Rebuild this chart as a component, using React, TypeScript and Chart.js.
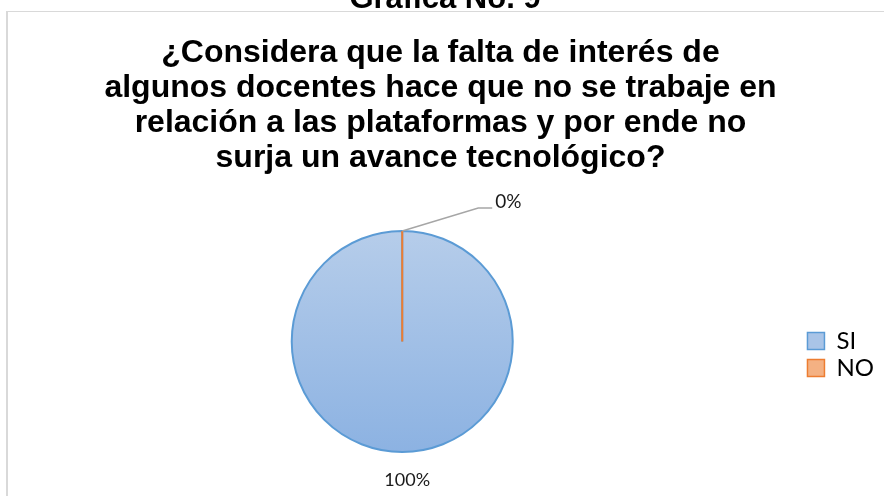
import React, { useEffect, useRef } from 'react';
import { Chart, registerables } from 'chart.js';

Chart.register(...registerables);

const chartHeading = 'Gráfica No. 9';
const titleLines = [
  '¿Considera que la falta de interés de',
  'algunos docentes hace que no se trabaje en',
  'relación a las plataformas y por ende no',
  'surja un avance tecnológico?',
];
const categories = ['SI', 'NO'];
const values = [100, 0];
const fillColors = ['#a9c4e7', '#f4b183'];
const strokeColors = ['#5b9bd5', '#ed7d31'];

const framePlugin = {
  id: 'frame',
  beforeDraw(chart: any) {
    const ctx = chart.ctx;
    ctx.save();
    ctx.fillStyle = '#ffffff';
    ctx.fillRect(0, 0, chart.width, chart.height);
    ctx.strokeStyle = '#d9d9d9';
    ctx.lineWidth = 1;
    ctx.beginPath();
    ctx.moveTo(6, 11.5);
    ctx.lineTo(chart.width, 11.5);
    ctx.stroke();
    ctx.lineWidth = 2;
    ctx.beginPath();
    ctx.moveTo(7, 11);
    ctx.lineTo(7, chart.height);
    ctx.stroke();
    ctx.fillStyle = '#000';
    ctx.font = 'bold 31px "Liberation Sans", Arial, sans-serif';
    ctx.textAlign = 'center';
    ctx.textBaseline = 'alphabetic';
    ctx.fillText(chartHeading, 445, 8);
    ctx.restore();
  },
};

const labelPlugin = {
  id: 'pieLabels',
  afterDatasetsDraw(chart: any) {
    const ctx = chart.ctx;
    const meta = chart.getDatasetMeta(0);
    const data = chart.data.datasets[0].data as number[];
    const total = data.reduce((a, b) => a + b, 0);
    ctx.save();
    meta.data.forEach((arc: any, i: number) => {
      const { x, y, startAngle, endAngle, outerRadius } = arc.getProps(
        ['x', 'y', 'startAngle', 'endAngle', 'outerRadius'],
        true
      );
      const v = data[i];
      const pct = Math.round((v / total) * 100) + '%';
      const mid = (startAngle + endAngle) / 2;
      const ex = x + Math.cos(mid) * outerRadius;
      const ey = y + Math.sin(mid) * outerRadius;
      ctx.font = '18px Lato, "Liberation Sans", sans-serif';
      ctx.fillStyle = '#1a1a1a';
      if (endAngle - startAngle === 0) {
        ctx.strokeStyle = strokeColors[i];
        ctx.lineWidth = 2;
        ctx.beginPath();
        ctx.moveTo(x, y);
        ctx.lineTo(ex, ey);
        ctx.stroke();
        const p1x = ex + 76;
        const p1y = ey - 23;
        ctx.strokeStyle = '#a6a6a6';
        ctx.lineWidth = 1.5;
        ctx.beginPath();
        ctx.moveTo(ex, ey);
        ctx.lineTo(p1x, p1y);
        ctx.lineTo(p1x + 14, p1y);
        ctx.stroke();
        ctx.textAlign = 'left';
        ctx.textBaseline = 'middle';
        ctx.font = '19px Lato, "Liberation Sans", sans-serif';
        ctx.fillText(pct, p1x + 17, p1y - 6);
      } else {
        const lx = x + Math.cos(mid) * (outerRadius + 28) + 5;
        const ly = y + Math.sin(mid) * (outerRadius + 28);
        ctx.textAlign = 'center';
        ctx.textBaseline = 'middle';
        ctx.fillText(pct, lx, ly);
      }
    });
    ctx.restore();
  },
};

export default function App() {
  const ref = useRef<HTMLCanvasElement>(null);
  useEffect(() => {
    if (!ref.current) return;
    const chart = new Chart(ref.current, {
      type: 'pie',
      data: {
        labels: categories,
        datasets: [
          {
            data: values,
            backgroundColor: (c: any) => {
              const i = c.dataIndex;
              if (i !== 0) return fillColors[i];
              const area = c.chart.chartArea;
              if (!area) return fillColors[0];
              const g = c.chart.ctx.createLinearGradient(0, area.top, 0, area.bottom);
              g.addColorStop(0, '#b6cdea');
              g.addColorStop(1, '#8cb2e2');
              return g;
            },
            borderColor: strokeColors,
            borderWidth: 2,
          },
        ],
      },
      options: {
        responsive: false,
        animation: false,
        events: [],
        layout: { padding: { left: -3, right: 0, top: 0, bottom: 43 } },
        plugins: {
          title: {
            display: true,
            text: titleLines,
            color: '#000',
            font: { family: '"Liberation Sans", Arial, sans-serif', size: 32, weight: 'bold', lineHeight: 35 / 32 },
            padding: { top: 36, bottom: 54 },
          },
          legend: {
            display: true,
            position: 'right',
            fullSize: false,
            title: { display: true, text: '', font: { size: 10, lineHeight: 1 }, padding: 8 },
            labels: {
              boxWidth: 17,
              boxHeight: 17,
              padding: 3,
              color: '#000',
              font: { family: 'Lato, "Liberation Sans", sans-serif', size: 24 },
              generateLabels: () =>
                categories.map((t, i) => ({
                  text: t,
                  fillStyle: fillColors[i],
                  strokeStyle: strokeColors[i],
                  lineWidth: 1.5,
                  hidden: false,
                  index: i,
                  fontColor: '#000',
                })),
            },
          },
          tooltip: { enabled: false },
        },
      },
      plugins: [framePlugin, labelPlugin],
    });
    return () => chart.destroy();
  }, []);
  return (
    <div style={{ position: 'fixed', left: 0, top: 0, width: 884, height: 496 }}>
      <canvas ref={ref} width={884} height={496} />
    </div>
  );
}
